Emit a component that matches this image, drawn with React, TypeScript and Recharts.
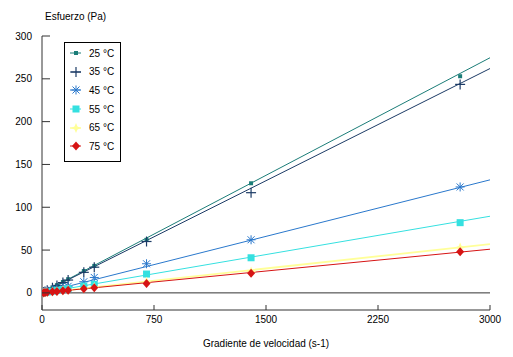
import React from 'react';
import { ComposedChart, Line, Scatter, XAxis, YAxis, ReferenceLine, Legend } from 'recharts';

// shear rate (s-1) of the measured points
const shearRates = [10, 20, 35, 70, 100, 140, 175, 280, 350, 700, 1400, 2800];

// measured stress (Pa) per temperature
const stress25 = [1, 2, 3.2, 6.4, 9, 12.7, 16, 25.5, 31.5, 62, 128, 253];
const stress35 = [0.9, 1.7, 3, 6, 8.7, 12, 15, 24, 30, 60, 117, 243.5];
const stress45 = [0.5, 1, 1.6, 3.1, 4.4, 6.2, 7.7, 13, 18, 34, 62, 123.7];
const stress55 = [0.3, 0.6, 1, 2, 2.9, 4, 5, 8, 10, 22, 41, 82];
const stress65 = [0.2, 0.4, 0.7, 1.3, 1.9, 2.7, 3.3, 5.5, 7, 13, 25, 53];
const stress75 = [0.2, 0.3, 0.6, 1.2, 1.7, 2.4, 3, 4.8, 6, 11, 23, 48];

// trend line end points (x = 0 and x = 3000)
const fitX = [0, 3000];
const fit25 = [0, 274.6];
const fit35 = [0, 262];
const fit45 = [0, 132];
const fit55 = [0, 89.5];
const fit65 = [0, 57];
const fit75 = [0, 51];

const xTicks = [0, 750, 1500, 2250, 3000];
const yTicks = [0, 50, 100, 150, 200, 250, 300];

type MarkerKind = 'dot' | 'plus' | 'asterisk' | 'square' | 'star' | 'diamond';

const series = [
  { name: '25 °C', color: '#1b7d78', marker: 'dot' as MarkerKind, values: stress25, fit: fit25 },
  { name: '35 °C', color: '#1c3b66', marker: 'plus' as MarkerKind, values: stress35, fit: fit35 },
  { name: '45 °C', color: '#2a78cc', marker: 'asterisk' as MarkerKind, values: stress45, fit: fit45 },
  { name: '55 °C', color: '#35e0e0', marker: 'square' as MarkerKind, values: stress55, fit: fit55 },
  { name: '65 °C', color: '#ffff99', marker: 'star' as MarkerKind, values: stress65, fit: fit65 },
  { name: '75 °C', color: '#d61414', marker: 'diamond' as MarkerKind, values: stress75, fit: fit75 },
];

const font = 'Liberation Sans, Arial, sans-serif';

const drawMarker = (kind: MarkerKind, cx: number, cy: number, color: string) => {
  switch (kind) {
    case 'dot':
      return <rect x={cx - 2} y={cy - 2} width={4} height={4} fill={color} />;
    case 'plus':
      return (
        <g stroke={color} strokeWidth={1.2}>
          <line x1={cx - 5} x2={cx + 5} y1={cy} y2={cy} />
          <line x1={cx} x2={cx} y1={cy - 5} y2={cy + 5} />
        </g>
      );
    case 'asterisk':
      return (
        <g stroke={color} strokeWidth={1}>
          <line x1={cx - 4.5} x2={cx + 4.5} y1={cy} y2={cy} />
          <line x1={cx} x2={cx} y1={cy - 4.5} y2={cy + 4.5} />
          <line x1={cx - 3.5} x2={cx + 3.5} y1={cy - 3.5} y2={cy + 3.5} />
          <line x1={cx - 3.5} x2={cx + 3.5} y1={cy + 3.5} y2={cy - 3.5} />
        </g>
      );
    case 'square':
      return <rect x={cx - 3.5} y={cy - 3.5} width={7} height={7} fill={color} />;
    case 'star':
      return (
        <polygon
          points={`${cx},${cy - 5} ${cx + 1.5},${cy - 1.5} ${cx + 5},${cy} ${cx + 1.5},${cy + 1.5} ${cx},${cy + 5} ${cx - 1.5},${cy + 1.5} ${cx - 5},${cy} ${cx - 1.5},${cy - 1.5}`}
          fill={color}
        />
      );
    case 'diamond':
    default:
      return <polygon points={`${cx},${cy - 4.5} ${cx + 4},${cy} ${cx},${cy + 4.5} ${cx - 4},${cy}`} fill={color} />;
  }
};

const XTick = ({ x, y, payload }: any) => (
  <g>
    <line x1={x} x2={x} y1={y - 9} y2={y - 14} stroke="#333" />
    <text x={x} y={y} dy="0.355em" textAnchor="middle" fill="#000" fontSize={10}>
      {payload.value}
    </text>
  </g>
);

const YTick = ({ x, y, payload }: any) => (
  <g>
    <line x1={x + 10} x2={x + 18} y1={y} y2={y} stroke="#333" />
    <text x={x} y={y} dy="0.355em" textAnchor="end" fill="#000" fontSize={10}>
      {payload.value}
    </text>
  </g>
);

const renderLegend = () => (
  <div
    style={{
      border: '1px solid #000',
      width: 57,
      height: 120,
      boxSizing: 'border-box',
      background: '#fff',
      paddingTop: 1,
      fontFamily: font,
    }}
  >
    {series.map((s) => (
      <div key={s.name} style={{ display: 'flex', alignItems: 'center', height: 18.6, fontSize: 10, color: '#000' }}>
        <svg width={18} height={12} style={{ marginLeft: 4 }}>
          <line x1={1} x2={12} y1={6} y2={6} stroke={s.color} strokeWidth={s.marker === 'star' ? 1.5 : 1} />
          {drawMarker(s.marker, 7, 6, s.color)}
        </svg>
        <span style={{ marginLeft: 2 }}>{s.name}</span>
      </div>
    ))}
  </div>
);

export default function App() {
  const fitData = series.map((s) => fitX.map((x, i) => ({ x, y: s.fit[i] })));
  const pointData = series.map((s) => shearRates.map((x, i) => ({ x, y: s.values[i] })));

  return (
    <div style={{ position: 'absolute', left: 0, top: 0, width: 513, height: 357, background: '#fff' }}>
      <div
        style={{
          position: 'absolute',
          left: 45,
          top: 11,
          fontFamily: font,
          fontSize: 10,
          color: '#000',
        }}
      >
        Esfuerzo (Pa)
      </div>
      <ComposedChart
        width={513}
        height={357}
        margin={{ top: 36, right: 23, bottom: 0, left: 0 }}
        style={{ fontFamily: font }}
      >
        <XAxis
          type="number"
          dataKey="x"
          domain={[0, 3000]}
          ticks={xTicks}
          height={47}
          tickSize={5}
          tickMargin={4}
          tickLine={false}
          tick={<XTick />}
          axisLine={{ stroke: '#333' }}
          allowDataOverflow
          label={{ value: 'Gradiente de velocidad (s-1)', position: 'insideBottom', offset: 10, fill: '#000', fontSize: 10 }}
        />
        <XAxis
          xAxisId="top"
          orientation="top"
          type="number"
          domain={[0, 3000]}
          height={0}
          tick={false}
          tickLine={false}
          axisLine={{ stroke: '#333' }}
        />
        <YAxis
          type="number"
          domain={[-20, 300]}
          ticks={yTicks}
          width={42}
          tickSize={8}
          tickMargin={2}
          tickLine={false}
          tick={<YTick />}
          axisLine={{ stroke: '#333' }}
          allowDataOverflow
        />
        <YAxis
          yAxisId="right"
          orientation="right"
          type="number"
          domain={[-20, 300]}
          width={0}
          tick={false}
          tickLine={false}
          axisLine={{ stroke: '#333' }}
        />
        <ReferenceLine y={0} stroke="#333" />
        {series.map((s, i) => (
          <Line
            key={`fit-${s.name}`}
            data={fitData[i]}
            dataKey="y"
            type="linear"
            stroke={s.color}
            strokeWidth={s.marker === 'star' ? 1.8 : 1}
            dot={false}
            activeDot={false}
            legendType="none"
            isAnimationActive={false}
          />
        ))}
        {series.map((s, i) => (
          <Scatter
            key={`pts-${s.name}`}
            name={s.name}
            data={pointData[i]}
            dataKey="y"
            fill={s.color}
            shape={(p: any) => drawMarker(s.marker, p.cx, p.cy, s.color)}
            isAnimationActive={false}
          />
        ))}
        <Legend
          content={renderLegend}
          layout="horizontal"
          align="center"
          verticalAlign="middle"
          wrapperStyle={{ position: 'absolute', left: 64, top: 42, width: 'auto', height: 'auto' }}
        />
      </ComposedChart>
    </div>
  );
}
